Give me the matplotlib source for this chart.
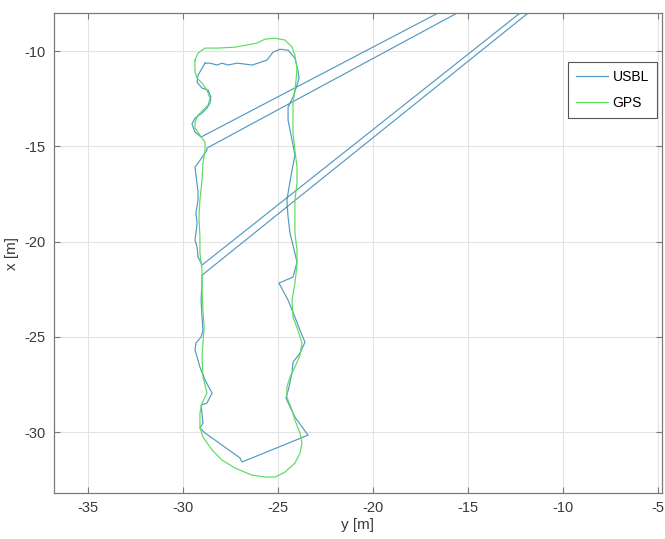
import numpy as np
import matplotlib.pyplot as plt

plt.rcParams['font.family'] = ['Liberation Sans', 'DejaVu Sans']

# ======================================================
# USBL track (east y, north x) [m] -- outliers go off the top of the plot
# ======================================================
usbl_y = [-28.84, -28.58, -28.21, -27.95, -27.63, -27.16, -26.74, -26.37, -26.05, -25.58,
          -25.26, -24.89, -24.47, -24.11, -23.95, -23.89, -24.05, -24.21, -24.47, -24.47,
          -24.26, -24.11, -24.26, -24.42, -24.53, -24.47, -24.37, -24.11, -24.00, -24.21,
          -24.95, -24.47, -24.11, -23.84, -23.58, -23.84, -24.21, -24.26, -24.42, -24.58,
          -24.11, -23.42, -26.89, -27.00, -27.95, -28.84, -29.11, -28.95, -29.05, -28.74,
          -28.47, -28.84, -29.11, -29.26, -29.37, -29.32, -29.05, -28.95, -29.00, -29.05,
          -29.00, -29.00, -9.35, -9.74, -29.00, -29.21, -29.26, -29.37, -29.32, -29.26,
          -29.32, -29.21, -29.21, -29.26, -29.37, -29.21, -28.74, -28.74, -11.87, -12.76,
          -29.05, -29.37, -29.53, -29.37, -29.00, -28.74, -28.58, -28.53, -28.68, -29.00,
          -29.26, -29.21, -28.84]
usbl_x = [-10.63, -10.63, -10.73, -10.63, -10.73, -10.63, -10.68, -10.73, -10.63, -10.47,
          -10.05, -9.90, -9.95, -10.37, -11.00, -11.42, -11.94, -12.41, -12.94, -13.62,
          -14.67, -15.46, -16.25, -17.14, -17.82, -18.71, -19.55, -20.60, -21.08, -21.86,
          -22.18, -23.07, -23.96, -24.65, -25.28, -25.85, -26.33, -26.85, -27.64, -28.22,
          -29.21, -30.16, -31.57, -31.36, -30.68, -30.05, -29.79, -29.53, -28.58, -28.48,
          -27.95, -27.27, -26.59, -26.06, -25.70, -25.33, -25.01, -24.65, -23.96, -23.07,
          -22.18, -21.76, -6.01, -6.01, -21.23, -20.81, -20.29, -19.92, -19.55, -19.03,
          -18.50, -17.82, -17.40, -16.98, -16.09, -15.88, -15.20, -15.09, -6.01, -6.01,
          -14.51, -14.25, -13.83, -13.52, -13.25, -12.99, -12.73, -12.41, -12.05, -11.94,
          -11.63, -11.26, -10.63]

# ======================================================
# GPS track
# ======================================================
gps_y = [-29.37, -29.21, -28.84, -28.16, -27.26, -26.37, -26.11, -25.68, -25.16, -24.63,
         -24.26, -24.11, -24.00, -24.05, -24.11, -24.21, -24.21, -24.11, -24.00, -24.00,
         -24.11, -24.11, -24.11, -24.00, -24.00, -24.11, -24.26, -24.21, -23.95, -23.74,
         -23.84, -24.11, -24.37, -24.53, -24.53, -24.26, -24.11, -23.84, -23.74, -23.84,
         -24.11, -24.63, -25.16, -25.68, -26.37, -27.26, -27.95, -28.47, -28.95, -29.11,
         -29.11, -29.00, -28.74, -28.84, -28.95, -29.00, -28.95, -28.89, -28.95, -29.00,
         -29.00, -29.11, -29.11, -29.16, -29.11, -29.00, -28.95, -28.84, -28.84, -29.11,
         -29.37, -29.37, -29.21, -28.95, -28.68, -28.58, -28.74, -29.00, -29.26, -29.37,
         -29.37]
gps_x = [-10.47, -10.10, -9.84, -9.84, -9.79, -9.63, -9.58, -9.37, -9.32, -9.42,
         -9.79, -10.21, -10.89, -11.52, -12.05, -12.73, -14.30, -15.20, -16.09, -16.93,
         -17.82, -18.71, -19.55, -20.45, -21.23, -22.18, -23.07, -23.96, -24.65, -25.33,
         -25.96, -26.59, -27.11, -27.64, -28.16, -28.85, -29.37, -30.05, -30.58, -31.10,
         -31.63, -32.10, -32.36, -32.36, -32.26, -31.89, -31.47, -30.94, -30.26, -29.74,
         -29.00, -28.48, -27.95, -27.53, -27.11, -26.06, -25.33, -24.49, -23.60, -22.55,
         -21.50, -20.60, -19.76, -18.71, -17.82, -16.77, -15.88, -15.20, -14.78, -14.41,
         -14.04, -13.73, -13.36, -13.10, -12.83, -12.47, -12.05, -11.68, -11.42, -11.10,
         -10.47]

x_ticks = [-35, -30, -25, -20, -15, -10, -5]
y_ticks = [-30, -25, -20, -15, -10]

# ======================================================
# 绘图
# ======================================================
fig = plt.figure(figsize=(6.65, 5.39), dpi=100)
ax = fig.add_axes([0.081, 0.0853, 0.914, 0.8905])

ax.plot(usbl_y, usbl_x, color='#5299c2', lw=0.85, label='USBL')
ax.plot(gps_y, gps_x, color='#5cdc5c', lw=0.85, label='GPS')

ax.set_xlim(-36.8, -4.8)
ax.set_ylim(-33.2, -8.0)
ax.set_xticks(x_ticks)
ax.set_yticks(y_ticks)
ax.set_xticklabels([str(t) for t in x_ticks])
ax.set_yticklabels([str(t) for t in y_ticks])

ax.grid(True, color='#e3e3e3', lw=0.8)
ax.set_axisbelow(True)
for s in ax.spines.values():
    s.set_color('#7a7a7a')
    s.set_linewidth(0.9)
ax.tick_params(direction='in', top=True, right=True, length=4, width=0.8,
               color='#7a7a7a', labelcolor='#3a3a3a', labelsize=10.5, pad=6)

ax.set_xlabel('y [m]', fontsize=11, color='#3a3a3a', labelpad=2)
ax.set_ylabel('x [m]', fontsize=11, color='#3a3a3a', labelpad=4)

leg = ax.legend(loc='upper right', bbox_to_anchor=(0.993, 0.898), borderaxespad=0,
                fancybox=False, framealpha=1, edgecolor='#555555', fontsize=10,
                handlelength=2.3, handletextpad=0.35, labelspacing=0.85, borderpad=0.6)
leg.get_frame().set_linewidth(0.8)

plt.savefig('out.png', dpi=100)
